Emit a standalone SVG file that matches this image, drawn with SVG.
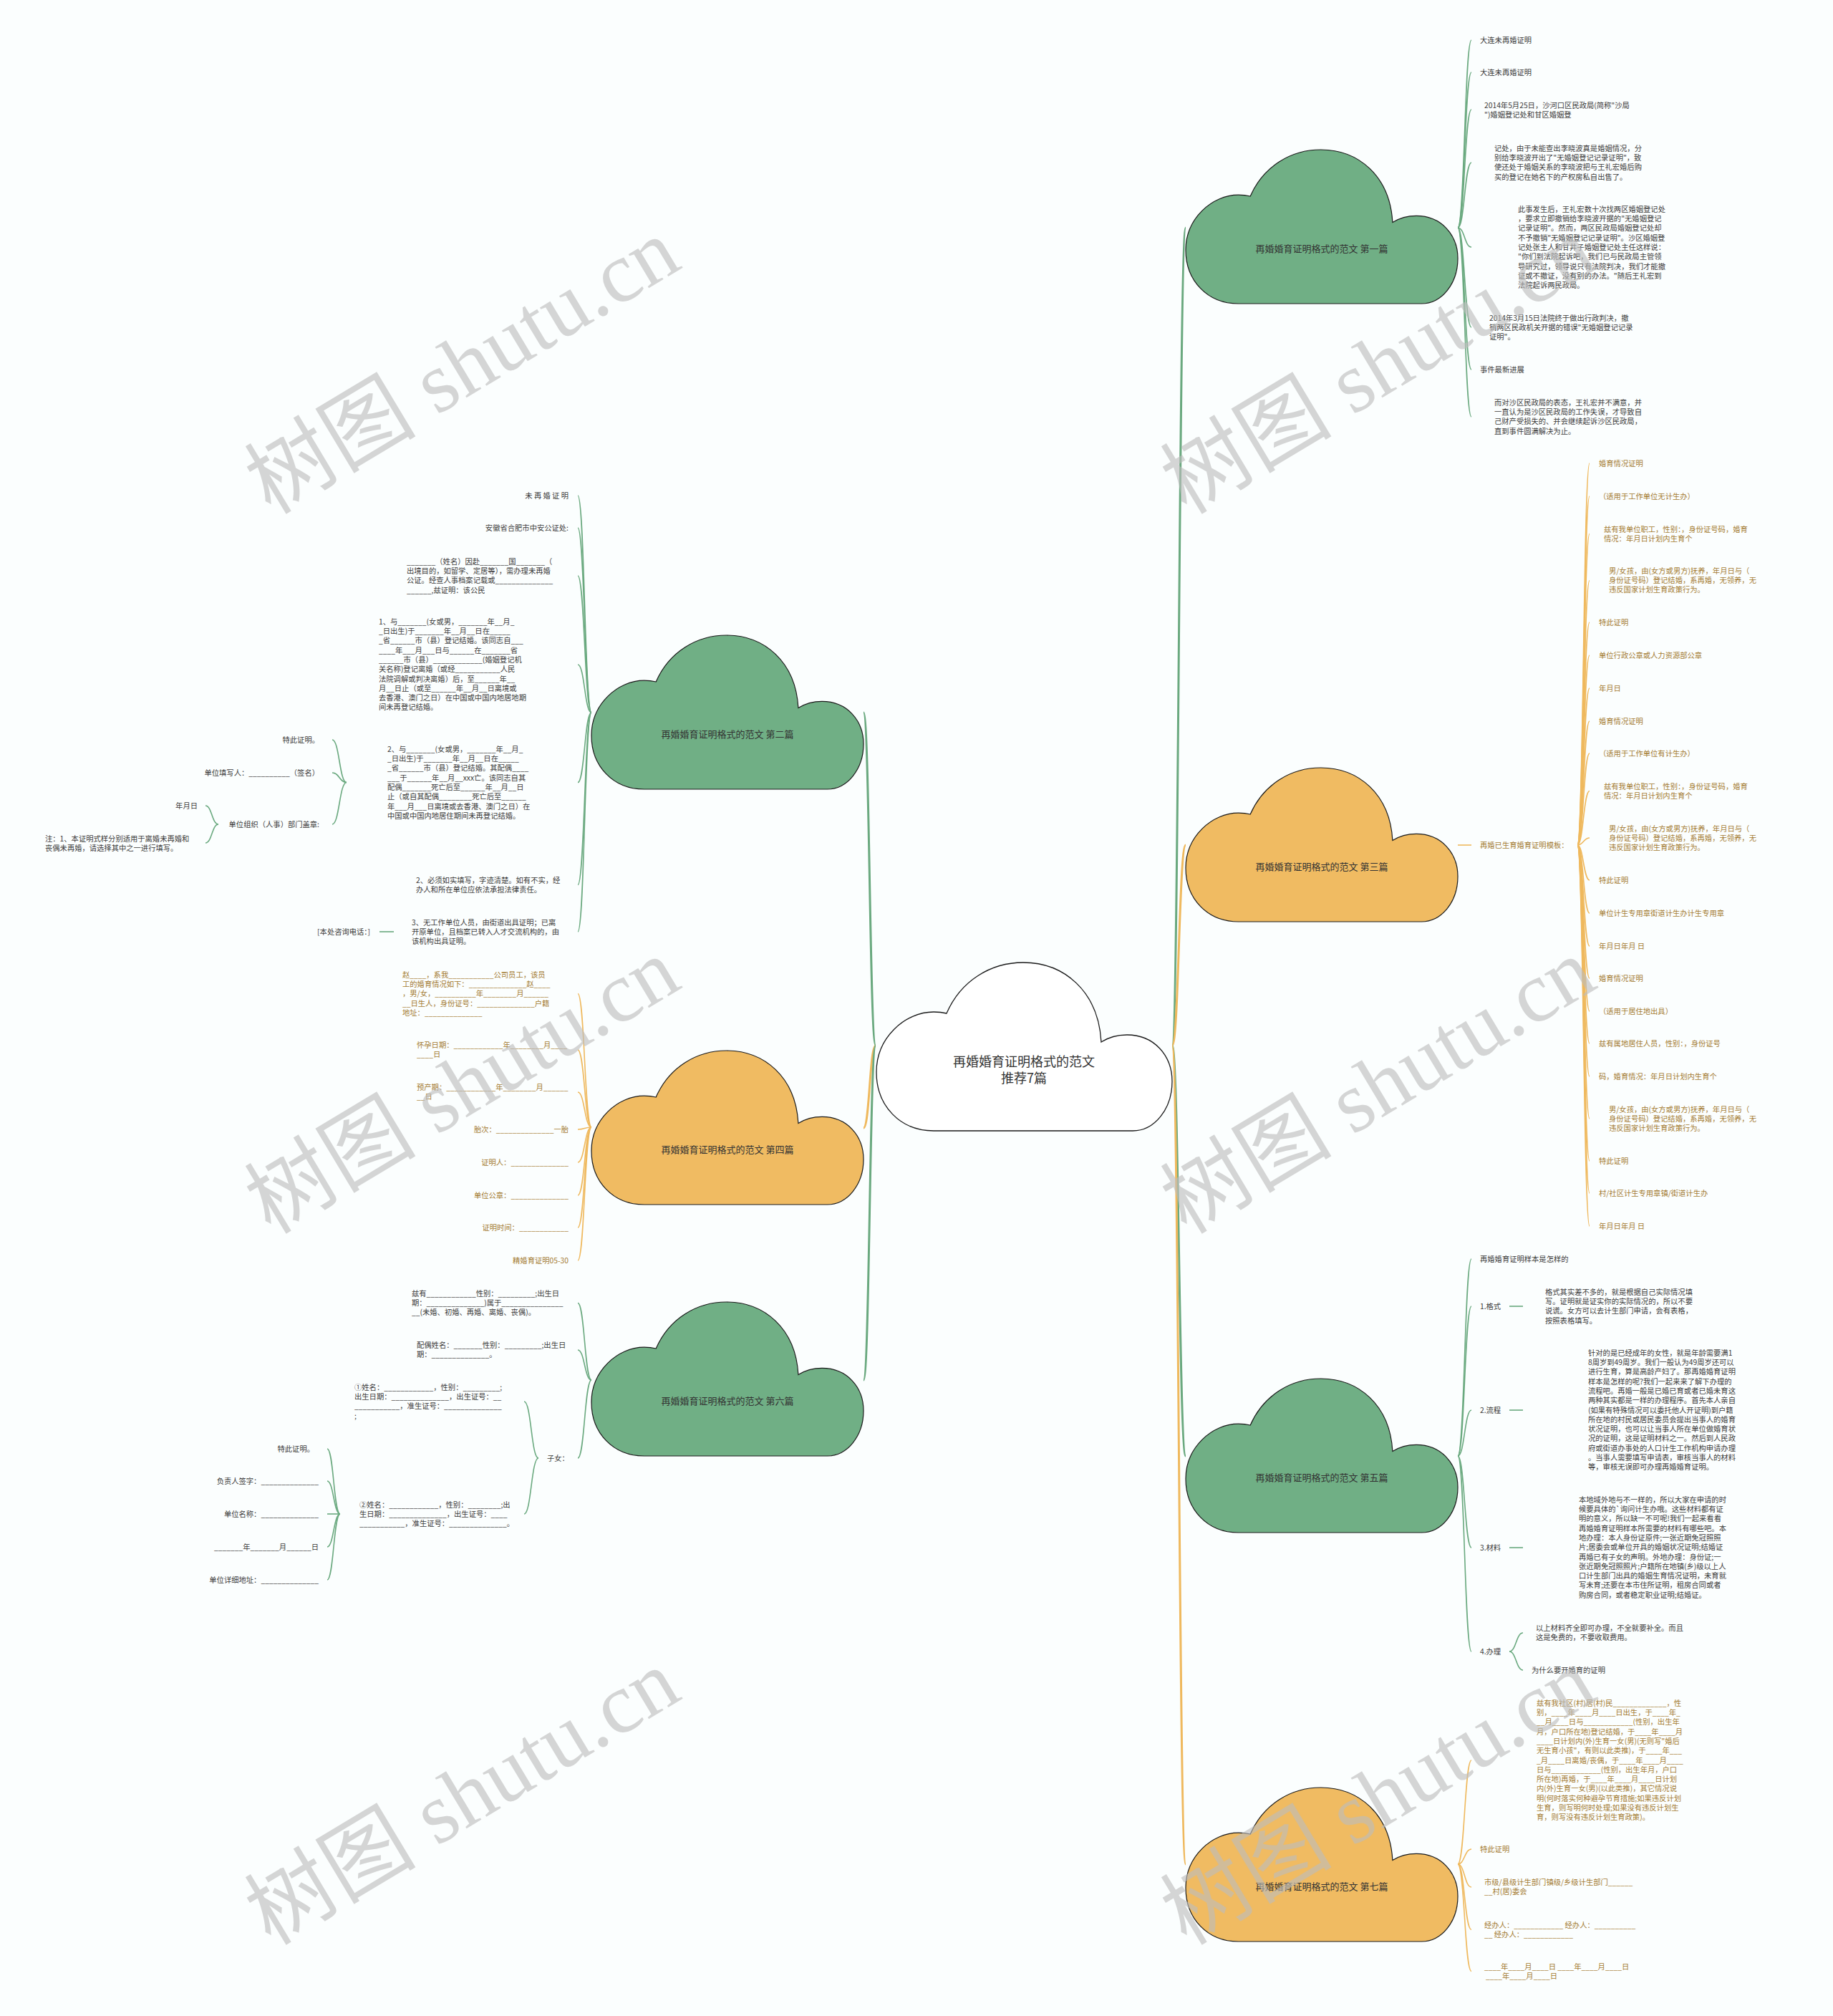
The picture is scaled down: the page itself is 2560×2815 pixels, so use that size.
<svg xmlns="http://www.w3.org/2000/svg" xmlns:xlink="http://www.w3.org/1999/xlink" width="2560" height="2815" viewBox="0 0 2560 2815">
<defs>
<style>
.t{font-family:"Noto Sans CJK SC","Liberation Sans",sans-serif;font-size:10.3px}
.tg{fill:#3b3b3b}
.to{fill:#a47b32}
.e{text-anchor:end}
.lg{fill:none;stroke:#6aa97f;stroke-width:1.6}
.lo{fill:none;stroke:#efb95e;stroke-width:1.6}
.m{stroke-width:3}
.ct{font-family:"Noto Sans CJK SC","Liberation Sans",sans-serif;font-size:13px;fill:#333;text-anchor:middle}
.wm{font-family:"Liberation Serif","Noto Sans CJK SC",serif;font-size:120px;fill:#bdbdbd;opacity:0.62;text-anchor:middle}
</style>
<path id="cloud" vector-effect="non-scaling-stroke" d="M0,153 C0,105 40,69 80,69 C88,69 94,70 98,71 C118,25 160,0 205,0 C262,0 310,40 314,111 C325,104 337,101 350,101 C388,101 413,130 413,166 C413,205 388,235 358,235 L80,235 C33,235 0,200 0,153 Z"/>
</defs>
<rect width="2560" height="2815" fill="#fbfefe"/>

<g id="connectors">
<!-- main -->
<path class="lg m" d="M1223 1460 C1214.5 1460 1214.5 995 1206 995"/>
<path class="lo m" d="M1223 1460 C1214.5 1460 1214.5 1575 1206 1575"/>
<path class="lg m" d="M1223 1460 C1214.5 1460 1214.5 1927 1206 1927"/>
<path class="lg m" d="M1637 1460 C1646.5 1460 1646.5 318 1656 318"/>
<path class="lo m" d="M1637 1460 C1646.5 1460 1646.5 1180 1656 1180"/>
<path class="lg m" d="M1637 1460 C1646.5 1460 1646.5 2033 1656 2033"/>
<path class="lo m" d="M1637 1460 C1646.5 1460 1646.5 2603 1656 2603"/>
<!-- cloud 1 fan -->
<path class="lg" d="M2036 318 C2045.5 318 2045.5 56 2055 56"/>
<path class="lg" d="M2036 318 C2045.5 318 2045.5 101 2055 101"/>
<path class="lg" d="M2036 318 C2045.5 318 2045.5 153 2055 153"/>
<path class="lg" d="M2036 318 C2045.5 318 2045.5 227 2055 227"/>
<path class="lg" d="M2036 318 C2045.5 318 2045.5 345 2055 345"/>
<path class="lg" d="M2036 318 C2045.5 318 2045.5 457 2055 457"/>
<path class="lg" d="M2036 318 C2045.5 318 2045.5 516 2055 516"/>
<path class="lg" d="M2036 318 C2045.5 318 2045.5 582 2055 582"/>
<!-- cloud 3 -->
<path class="lo" d="M2036 1180 H2055"/>
<path class="lo" d="M2203 1180 C2211.5 1180 2211.5 647 2220 647"/>
<path class="lo" d="M2203 1180 C2211.5 1180 2211.5 693 2220 693"/>
<path class="lo" d="M2203 1180 C2211.5 1180 2211.5 745.5 2220 745.5"/>
<path class="lo" d="M2203 1180 C2211.5 1180 2211.5 810.5 2220 810.5"/>
<path class="lo" d="M2203 1180 C2211.5 1180 2211.5 869 2220 869"/>
<path class="lo" d="M2203 1180 C2211.5 1180 2211.5 915 2220 915"/>
<path class="lo" d="M2203 1180 C2211.5 1180 2211.5 961 2220 961"/>
<path class="lo" d="M2203 1180 C2211.5 1180 2211.5 1007 2220 1007"/>
<path class="lo" d="M2203 1180 C2211.5 1180 2211.5 1052 2220 1052"/>
<path class="lo" d="M2203 1180 C2211.5 1180 2211.5 1104.5 2220 1104.5"/>
<path class="lo" d="M2203 1180 C2211.5 1180 2211.5 1170 2220 1170"/>
<path class="lo" d="M2203 1180 C2211.5 1180 2211.5 1229 2220 1229"/>
<path class="lo" d="M2203 1180 C2211.5 1180 2211.5 1275 2220 1275"/>
<path class="lo" d="M2203 1180 C2211.5 1180 2211.5 1321 2220 1321"/>
<path class="lo" d="M2203 1180 C2211.5 1180 2211.5 1366 2220 1366"/>
<path class="lo" d="M2203 1180 C2211.5 1180 2211.5 1412 2220 1412"/>
<path class="lo" d="M2203 1180 C2211.5 1180 2211.5 1457 2220 1457"/>
<path class="lo" d="M2203 1180 C2211.5 1180 2211.5 1503 2220 1503"/>
<path class="lo" d="M2203 1180 C2211.5 1180 2211.5 1562 2220 1562"/>
<path class="lo" d="M2203 1180 C2211.5 1180 2211.5 1621 2220 1621"/>
<path class="lo" d="M2203 1180 C2211.5 1180 2211.5 1666 2220 1666"/>
<path class="lo" d="M2203 1180 C2211.5 1180 2211.5 1712 2220 1712"/>
<!-- cloud 5 -->
<path class="lg" d="M2036 2033 C2045.5 2033 2045.5 1758 2055 1758"/>
<path class="lg" d="M2036 2033 C2045.5 2033 2045.5 1824 2055 1824"/>
<path class="lg" d="M2036 2033 C2045.5 2033 2045.5 1969 2055 1969"/>
<path class="lg" d="M2036 2033 C2045.5 2033 2045.5 2161 2055 2161"/>
<path class="lg" d="M2036 2033 C2045.5 2033 2045.5 2306 2055 2306"/>
<path class="lg" d="M2108 1824 H2127"/>
<path class="lg" d="M2108 1969 H2127"/>
<path class="lg" d="M2108 2161 H2127"/>
<path class="lg" d="M2108 2306 C2117.5 2306 2117.5 2280 2127 2280"/>
<path class="lg" d="M2108 2306 C2117.5 2306 2117.5 2332 2127 2332"/>
<!-- cloud 7 -->
<path class="lo" d="M2036 2603 C2045.5 2603 2045.5 2458 2055 2458"/>
<path class="lo" d="M2036 2603 C2045.5 2603 2045.5 2582 2055 2582"/>
<path class="lo" d="M2036 2603 C2045.5 2603 2045.5 2635 2055 2635"/>
<path class="lo" d="M2036 2603 C2045.5 2603 2045.5 2694.5 2055 2694.5"/>
<path class="lo" d="M2036 2603 C2045.5 2603 2045.5 2752.5 2055 2752.5"/>
<!-- cloud 2 -->
<path class="lg" d="M826 995 C816.5 995 816.5 692 807 692"/>
<path class="lg" d="M826 995 C816.5 995 816.5 737 807 737"/>
<path class="lg" d="M826 995 C816.5 995 816.5 804 807 804"/>
<path class="lg" d="M826 995 C816.5 995 816.5 928 807 928"/>
<path class="lg" d="M826 995 C816.5 995 816.5 1092.5 807 1092.5"/>
<path class="lg" d="M826 995 C816.5 995 816.5 1235.5 807 1235.5"/>
<path class="lg" d="M826 995 C816.5 995 816.5 1301 807 1301"/>
<path class="lg" d="M484 1092.5 C474 1092.5 474 1033 464 1033"/>
<path class="lg" d="M484 1092.5 C474 1092.5 474 1079 464 1079"/>
<path class="lg" d="M484 1092.5 C474 1092.5 474 1151 464 1151"/>
<path class="lg" d="M305 1151 C296 1151 296 1125 287 1125"/>
<path class="lg" d="M305 1151 C296 1151 296 1177 287 1177"/>
<path class="lg" d="M530 1301 H550"/>
<!-- cloud 4 -->
<path class="lo" d="M826 1574 C816.5 1574 816.5 1387.5 807 1387.5"/>
<path class="lo" d="M826 1574 C816.5 1574 816.5 1466 807 1466"/>
<path class="lo" d="M826 1574 C816.5 1574 816.5 1525 807 1525"/>
<path class="lo" d="M826 1574 C816.5 1574 816.5 1577 807 1577"/>
<path class="lo" d="M826 1574 C816.5 1574 816.5 1623 807 1623"/>
<path class="lo" d="M826 1574 C816.5 1574 816.5 1669 807 1669"/>
<path class="lo" d="M826 1574 C816.5 1574 816.5 1714 807 1714"/>
<path class="lo" d="M826 1574 C816.5 1574 816.5 1760 807 1760"/>
<!-- cloud 6 -->
<path class="lg" d="M826 1927 C816.5 1927 816.5 1819.5 807 1819.5"/>
<path class="lg" d="M826 1927 C816.5 1927 816.5 1885 807 1885"/>
<path class="lg" d="M826 1927 C816.5 1927 816.5 2036 807 2036"/>
<path class="lg" d="M752 2036 C742 2036 742 1957 732 1957"/>
<path class="lg" d="M752 2036 C742 2036 742 2114 732 2114"/>
<path class="lg" d="M475 2114 C466 2114 466 2023 457 2023"/>
<path class="lg" d="M475 2114 C466 2114 466 2068 457 2068"/>
<path class="lg" d="M475 2114 C466 2114 466 2114 457 2114"/>
<path class="lg" d="M475 2114 C466 2114 466 2160 457 2160"/>
<path class="lg" d="M475 2114 C466 2114 466 2206 457 2206"/>
</g>

<g id="node-center">
<use href="#cloud" transform="translate(1224 1344)" fill="#ffffff" stroke="#1a1a1a" stroke-width="1.3"/>
<text class="ct" x="1430" y="1488.5" style="font-size:18px">再婚婚育证明格式的范文</text>
<text class="ct" x="1430" y="1511.5" style="font-size:18px">推荐7篇</text>
</g>

<g id="node-1">
<use href="#cloud" transform="translate(1656 209) scale(0.9201 0.9149)" fill="#70af85" stroke="#1a1a1a" stroke-width="1.2"/>
<text class="ct" x="1846" y="352">再婚婚育证明格式的范文 第一篇</text>
</g>
<g id="node-3">
<use href="#cloud" transform="translate(1656 1072) scale(0.9201 0.9149)" fill="#f0bb62" stroke="#1a1a1a" stroke-width="1.2"/>
<text class="ct" x="1846" y="1215">再婚婚育证明格式的范文 第三篇</text>
</g>
<g id="node-5">
<use href="#cloud" transform="translate(1656 1925) scale(0.9201 0.9149)" fill="#70af85" stroke="#1a1a1a" stroke-width="1.2"/>
<text class="ct" x="1846" y="2068">再婚婚育证明格式的范文 第五篇</text>
</g>
<g id="node-7">
<use href="#cloud" transform="translate(1656 2496) scale(0.9201 0.9149)" fill="#f0bb62" stroke="#1a1a1a" stroke-width="1.2"/>
<text class="ct" x="1846" y="2639">再婚婚育证明格式的范文 第七篇</text>
</g>
<g id="node-2">
<use href="#cloud" transform="translate(826 887) scale(0.9201 0.9149)" fill="#70af85" stroke="#1a1a1a" stroke-width="1.2"/>
<text class="ct" x="1016" y="1030">再婚婚育证明格式的范文 第二篇</text>
</g>
<g id="node-4">
<use href="#cloud" transform="translate(826 1467) scale(0.9201 0.9149)" fill="#f0bb62" stroke="#1a1a1a" stroke-width="1.2"/>
<text class="ct" x="1016" y="1610">再婚婚育证明格式的范文 第四篇</text>
</g>
<g id="node-6">
<use href="#cloud" transform="translate(826 1818) scale(0.9201 0.9149)" fill="#70af85" stroke="#1a1a1a" stroke-width="1.2"/>
<text class="ct" x="1016" y="1961">再婚婚育证明格式的范文 第六篇</text>
</g>

<g id="leaves-1">
<text class="t tg" x="2067" y="59.7">大连未再婚证明</text>
<text class="t tg" x="2067" y="104.7">大连未再婚证明</text>
<text class="t tg" x="2073" y="150.7"><tspan x="2073">2014年5月25日，沙河口区民政局(简称"沙局</tspan><tspan x="2073" dy="13.3">")婚姻登记处和甘区婚姻登</tspan></text>
<text class="t tg" x="2087" y="210.7"><tspan x="2087">记处，由于未能查出李晓波真是婚姻情况，分</tspan><tspan x="2087" dy="13.3">别给李晓波开出了"无婚姻登记记录证明"，致</tspan><tspan x="2087" dy="13.3">使还处于婚姻关系的李晓波把与王礼宏婚后购</tspan><tspan x="2087" dy="13.3">买的登记在她名下的产权房私自出售了。</tspan></text>
<text class="t tg" x="2120" y="295.7"><tspan x="2120">此事发生后，王礼宏数十次找两区婚姻登记处</tspan><tspan x="2120" dy="13.3">，要求立即撤销给李晓波开据的"无婚姻登记</tspan><tspan x="2120" dy="13.3">记录证明"。然而，两区民政局婚姻登记处却</tspan><tspan x="2120" dy="13.3">不予撤销"无婚姻登记记录证明"。沙区婚姻登</tspan><tspan x="2120" dy="13.3">记处张主人和甘井子婚姻登记处主任这样说：</tspan><tspan x="2120" dy="13.3">"你们到法院起诉吧，我们已与民政局主管领</tspan><tspan x="2120" dy="13.3">导研究过，领导说只有法院判决，我们才能撤</tspan><tspan x="2120" dy="13.3">证或不撤证，没有别的办法。"随后王礼宏到</tspan><tspan x="2120" dy="13.3">法院起诉两民政局。</tspan></text>
<text class="t tg" x="2080" y="447.7"><tspan x="2080">2014年3月15日法院终于做出行政判决，撤</tspan><tspan x="2080" dy="13.3">销两区民政机关开据的错误"无婚姻登记记录</tspan><tspan x="2080" dy="13.3">证明"。</tspan></text>
<text class="t tg" x="2067" y="519.7">事件最新进展</text>
<text class="t tg" x="2087" y="565.7"><tspan x="2087">而对沙区民政局的表态，王礼宏并不满意，并</tspan><tspan x="2087" dy="13.3">一直认为是沙区民政局的工作失误，才导致自</tspan><tspan x="2087" dy="13.3">己财产受损失的、并会继续起诉沙区民政局，</tspan><tspan x="2087" dy="13.3">直到事件圆满解决为止。</tspan></text>
</g>

<g id="leaves-3">
<text class="t to" x="2067" y="1183.7">再婚已生育婚育证明模板：</text>
<text class="t to" x="2233" y="650.7">婚育情况证明</text>
<text class="t to" x="2233" y="696.7">（适用于工作单位无计生办）</text>
<text class="t to" x="2240" y="742.7"><tspan x="2240">兹有我单位职工，性别：，身份证号码，婚育</tspan><tspan x="2240" dy="13.3">情况：年月日计划内生育个</tspan></text>
<text class="t to" x="2247" y="800.7"><tspan x="2247">男/女孩，由(女方或男方)抚养，年月日与（</tspan><tspan x="2247" dy="13.3">身份证号码）登记结婚，系再婚，无领养，无</tspan><tspan x="2247" dy="13.3">违反国家计划生育政策行为。</tspan></text>
<text class="t to" x="2233" y="872.7">特此证明</text>
<text class="t to" x="2233" y="918.7">单位行政公章或人力资源部公章</text>
<text class="t to" x="2233" y="964.7">年月日</text>
<text class="t to" x="2233" y="1010.7">婚育情况证明</text>
<text class="t to" x="2233" y="1055.7">（适用于工作单位有计生办）</text>
<text class="t to" x="2240" y="1101.7"><tspan x="2240">兹有我单位职工，性别：，身份证号码，婚育</tspan><tspan x="2240" dy="13.3">情况：年月日计划内生育个</tspan></text>
<text class="t to" x="2247" y="1160.7"><tspan x="2247">男/女孩，由(女方或男方)抚养，年月日与（</tspan><tspan x="2247" dy="13.3">身份证号码）登记结婚，系再婚，无领养，无</tspan><tspan x="2247" dy="13.3">违反国家计划生育政策行为。</tspan></text>
<text class="t to" x="2233" y="1232.7">特此证明</text>
<text class="t to" x="2233" y="1278.7">单位计生专用章街道计生办计生专用章</text>
<text class="t to" x="2233" y="1324.7">年月日年月 日</text>
<text class="t to" x="2233" y="1369.7">婚育情况证明</text>
<text class="t to" x="2233" y="1415.7">（适用于居住地出具）</text>
<text class="t to" x="2233" y="1460.7">兹有属地居住人员，性别：，身份证号</text>
<text class="t to" x="2233" y="1506.7">码，婚育情况：年月日计划内生育个</text>
<text class="t to" x="2247" y="1552.7"><tspan x="2247">男/女孩，由(女方或男方)抚养，年月日与（</tspan><tspan x="2247" dy="13.3">身份证号码）登记结婚，系再婚，无领养，无</tspan><tspan x="2247" dy="13.3">违反国家计划生育政策行为。</tspan></text>
<text class="t to" x="2233" y="1624.7">特此证明</text>
<text class="t to" x="2233" y="1669.7">村/社区计生专用章镇/街道计生办</text>
<text class="t to" x="2233" y="1715.7">年月日年月 日</text>
</g>

<g id="leaves-5">
<text class="t tg" x="2067" y="1761.7">再婚婚育证明样本是怎样的</text>
<text class="t tg" x="2067" y="1827.7">1.格式</text>
<text class="t tg" x="2158" y="1807.7"><tspan x="2158">格式其实差不多的，就是根据自己实际情况填</tspan><tspan x="2158" dy="13.3">写。证明就是证实你的实际情况的，所以不要</tspan><tspan x="2158" dy="13.3">说谎。女方可以去计生部门申请，会有表格，</tspan><tspan x="2158" dy="13.3">按照表格填写。</tspan></text>
<text class="t tg" x="2067" y="1972.7">2.流程</text>
<text class="t tg" x="2218" y="1892.7"><tspan x="2218">针对的是已经成年的女性，就是年龄需要满1</tspan><tspan x="2218" dy="13.3">8周岁到49周岁。我们一般认为49周岁还可以</tspan><tspan x="2218" dy="13.3">进行生育，算是高龄产妇了。那再婚婚育证明</tspan><tspan x="2218" dy="13.3">样本是怎样的呢?我们一起来来了解下办理的</tspan><tspan x="2218" dy="13.3">流程吧。再婚一般是已婚已育或者已婚未育这</tspan><tspan x="2218" dy="13.3">两种其实都是一样的办理程序。首先本人亲自</tspan><tspan x="2218" dy="13.3">(如果有特殊情况可以委托他人开证明)到户籍</tspan><tspan x="2218" dy="13.3">所在地的村民或居民委员会提出当事人的婚育</tspan><tspan x="2218" dy="13.3">状况证明，也可以让当事人所在单位做婚育状</tspan><tspan x="2218" dy="13.3">况的证明，这是证明材料之一。然后到人民政</tspan><tspan x="2218" dy="13.3">府或街道办事处的人口计生工作机构申请办理</tspan><tspan x="2218" dy="13.3">。当事人需要填写申请表，审核当事人的材料</tspan><tspan x="2218" dy="13.3">等，审核无误即可办理再婚婚育证明。</tspan></text>
<text class="t tg" x="2067" y="2164.7">3.材料</text>
<text class="t tg" x="2205" y="2097.7"><tspan x="2205">本地域外地与不一样的，所以大家在申请的时</tspan><tspan x="2205" dy="13.3">候要具体的`询问计生办哦。这些材料都有证</tspan><tspan x="2205" dy="13.3">明的意义，所以缺一不可呢!我们一起来看看</tspan><tspan x="2205" dy="13.3">再婚婚育证明样本所需要的材料有哪些吧。本</tspan><tspan x="2205" dy="13.3">地办理：本人身份证原件;一张近期免冠照照</tspan><tspan x="2205" dy="13.3">片;居委会或单位开具的婚姻状况证明;结婚证</tspan><tspan x="2205" dy="13.3">再婚已有子女的声明。外地办理：身份证;一</tspan><tspan x="2205" dy="13.3">张近期免冠照照片;户籍所在地镇(乡)级以上人</tspan><tspan x="2205" dy="13.3">口计生部门出具的婚姻生育情况证明，未育就</tspan><tspan x="2205" dy="13.3">写未育;还要在本市住所证明，租房合同或者</tspan><tspan x="2205" dy="13.3">购房合同，或者稳定职业证明;结婚证。</tspan></text>
<text class="t tg" x="2067" y="2309.7">4.办理</text>
<text class="t tg" x="2145" y="2276.7"><tspan x="2145">以上材料齐全即可办理，不全就要补全。而且</tspan><tspan x="2145" dy="13.3">这是免费的，不要收取费用。</tspan></text>
<text class="t tg" x="2139" y="2335.7">为什么要开婚育的证明</text>
</g>

<g id="leaves-7">
<text class="t to" x="2146" y="2381.7"><tspan x="2146">兹有我社区(村)居(村)民_____________，性</tspan><tspan x="2146" dy="13.3">别，____年____月____日出生，于____年_</tspan><tspan x="2146" dy="13.3">__月____日与____________(性别，出生年</tspan><tspan x="2146" dy="13.3">月，户口所在地)登记结婚，于____年____月</tspan><tspan x="2146" dy="13.3">____日计划内(外)生育一女(男)(无则写"婚后</tspan><tspan x="2146" dy="13.3">无生育小孩"，有则以此类推)，于____年___</tspan><tspan x="2146" dy="13.3">_月____日离婚/丧偶，于____年____月____</tspan><tspan x="2146" dy="13.3">日与____________(性别，出生年月，户口</tspan><tspan x="2146" dy="13.3">所在地)再婚，于____年____月____日计划</tspan><tspan x="2146" dy="13.3">内(外)生育一女(男)(以此类推)，其它情况说</tspan><tspan x="2146" dy="13.3">明(何时落实何种避孕节育措施;如果违反计划</tspan><tspan x="2146" dy="13.3">生育，则写明何时处理;如果没有违反计划生</tspan><tspan x="2146" dy="13.3">育，则写没有违反计划生育政策)。</tspan></text>
<text class="t to" x="2067" y="2585.7">特此证明</text>
<text class="t to" x="2073" y="2631.7"><tspan x="2073">市级/县级计生部门镇级/乡级计生部门______</tspan><tspan x="2073" dy="13.3">__村(居)委会</tspan></text>
<text class="t to" x="2073" y="2691.7"><tspan x="2073">经办人：____________ 经办人：__________</tspan><tspan x="2073" dy="13.3">__ 经办人：____________</tspan></text>
<text class="t to" x="2073" y="2749.7"><tspan x="2073">____年____月____日 ____年____月____日</tspan><tspan x="2075" dy="13.3">____年____月____日</tspan></text>
</g>

<g id="leaves-2">
<text class="t tg e" x="794" y="695.7">未 再 婚 证 明</text>
<text class="t tg e" x="794" y="740.7">安徽省合肥市中安公证处:</text>
<text class="t tg" x="568" y="787.7"><tspan x="568">_______（姓名）因赴_______国_______（</tspan><tspan x="568" dy="13.3">出境目的，如留学、定居等），需办理未再婚</tspan><tspan x="568" dy="13.3">公证。经查人事档案记载或______________</tspan><tspan x="568" dy="13.3">______,兹证明：该公民</tspan></text>
<text class="t tg" x="529" y="871.7"><tspan x="529">1、与_______(女或男，_______年__月_</tspan><tspan x="529" dy="13.3">_日出生)于_______年__月__日在_____</tspan><tspan x="529" dy="13.3">_省______市（县）登记结婚。该同志自___</tspan><tspan x="529" dy="13.3">____年___月___日与______在_______省</tspan><tspan x="529" dy="13.3">______市（县）____________(婚姻登记机</tspan><tspan x="529" dy="13.3">关名称)登记离婚（或经___________人民</tspan><tspan x="529" dy="13.3">法院调解或判决离婚）后，至______年__</tspan><tspan x="529" dy="13.3">月__日止（或至______年__月__日离境或</tspan><tspan x="529" dy="13.3">去香港、澳门之日）在中国或中国内地居地期</tspan><tspan x="529" dy="13.3">间未再登记结婚。</tspan></text>
<text class="t tg" x="541" y="1049.7"><tspan x="541">2、与_______(女或男，_______年__月_</tspan><tspan x="541" dy="13.3">_日出生)于_______年__月__日在_____</tspan><tspan x="541" dy="13.3">_省______市（县）登记结婚。其配偶____</tspan><tspan x="541" dy="13.3">___于______年__月__xxx亡。该同志自其</tspan><tspan x="541" dy="13.3">配偶_______死亡后至______年__月__日</tspan><tspan x="541" dy="13.3">止（或自其配偶________死亡后至______</tspan><tspan x="541" dy="13.3">年___月___日离境或去香港、澳门之日）在</tspan><tspan x="541" dy="13.3">中国或中国内地居住期间未再登记结婚。</tspan></text>
<text class="t tg e" x="446" y="1036.7">特此证明。</text>
<text class="t tg e" x="446" y="1082.7">单位填写人：__________（签名）</text>
<text class="t tg e" x="446" y="1154.7">单位组织（人事）部门盖章:</text>
<text class="t tg e" x="276" y="1128.7">年月日</text>
<text class="t tg" x="63" y="1174.7"><tspan x="63">注：1、本证明式样分别适用于离婚未再婚和</tspan><tspan x="63" dy="13.3">丧偶未再婚，请选择其中之一进行填写。</tspan></text>
<text class="t tg" x="581" y="1232.7"><tspan x="581">2、必须如实填写，字迹清楚。如有不实，经</tspan><tspan x="581" dy="13.3">办人和所在单位应依法承担法律责任。</tspan></text>
<text class="t tg" x="575" y="1291.7"><tspan x="575">3、无工作单位人员，由街道出具证明；已离</tspan><tspan x="575" dy="13.3">开原单位，且档案已转入人才交流机构的，由</tspan><tspan x="575" dy="13.3">该机构出具证明。</tspan></text>
<text class="t tg e" x="517" y="1304.7">[本处咨询电话：]</text>
</g>

<g id="leaves-4">
<text class="t to" x="562" y="1364.7"><tspan x="562">赵____，系我___________公司员工，该员</tspan><tspan x="562" dy="13.3">工的婚育情况如下：______________赵____</tspan><tspan x="562" dy="13.3">，男/女，__________年________月______</tspan><tspan x="562" dy="13.3">__日生人，身份证号：______________户籍</tspan><tspan x="562" dy="13.3">地址：______________</tspan></text>
<text class="t to" x="582" y="1462.7"><tspan x="582">怀孕日期：____________年________月____</tspan><tspan x="582" dy="13.3">____日</tspan></text>
<text class="t to" x="582" y="1521.7"><tspan x="582">预产期：____________年________月______</tspan><tspan x="582" dy="13.3">__日</tspan></text>
<text class="t to e" x="794" y="1580.7">胎次：______________一胎</text>
<text class="t to e" x="794" y="1626.7">证明人：______________</text>
<text class="t to e" x="794" y="1672.7">单位公章：______________</text>
<text class="t to e" x="794" y="1717.7">证明时间：____________</text>
<text class="t to e" x="794" y="1763.7">精婚育证明05-30</text>
</g>

<g id="leaves-6">
<text class="t tg" x="575" y="1809.7"><tspan x="575">兹有____________性别：_________;出生日</tspan><tspan x="575" dy="13.3">期：______________)属于_______________</tspan><tspan x="575" dy="13.3">__(未婚、初婚、再婚、离婚、丧偶)。</tspan></text>
<text class="t tg" x="582" y="1881.7"><tspan x="582">配偶姓名：_______性别：_________;出生日</tspan><tspan x="582" dy="13.3">期：______________。</tspan></text>
<text class="t tg" x="764" y="2039.7">子女：</text>
<text class="t tg" x="495" y="1940.7"><tspan x="495">①姓名：____________，性别：_________;</tspan><tspan x="495" dy="13.3">出生日期：______________，出生证号：__</tspan><tspan x="495" dy="13.3">___________，准生证号：______________</tspan><tspan x="495" dy="13.3">;</tspan></text>
<text class="t tg" x="502" y="2104.7"><tspan x="502">②姓名：____________，性别：________;出</tspan><tspan x="502" dy="13.3">生日期：______________，出生证号：____</tspan><tspan x="502" dy="13.3">___________，准生证号：______________。</tspan></text>
<text class="t tg e" x="439" y="2026.7">特此证明。</text>
<text class="t tg e" x="445" y="2071.7">负责人签字：______________</text>
<text class="t tg e" x="445" y="2117.7">单位名称：______________</text>
<text class="t tg e" x="445" y="2163.7">_______年_______月______日</text>
<text class="t tg e" x="445" y="2209.7">单位详细地址：______________</text>
</g>

<g id="watermarks">
<text class="wm" x="646" y="552" transform="rotate(-31 646 512)">树图 shutu.cn</text>
<text class="wm" x="1925" y="552" transform="rotate(-31 1925 512)">树图 shutu.cn</text>
<text class="wm" x="646" y="1557" transform="rotate(-31 646 1517)">树图 shutu.cn</text>
<text class="wm" x="1925" y="1557" transform="rotate(-31 1925 1517)">树图 shutu.cn</text>
<text class="wm" x="646" y="2550" transform="rotate(-31 646 2510)">树图 shutu.cn</text>
<text class="wm" x="1925" y="2550" transform="rotate(-31 1925 2510)">树图 shutu.cn</text>
</g>
</svg>
